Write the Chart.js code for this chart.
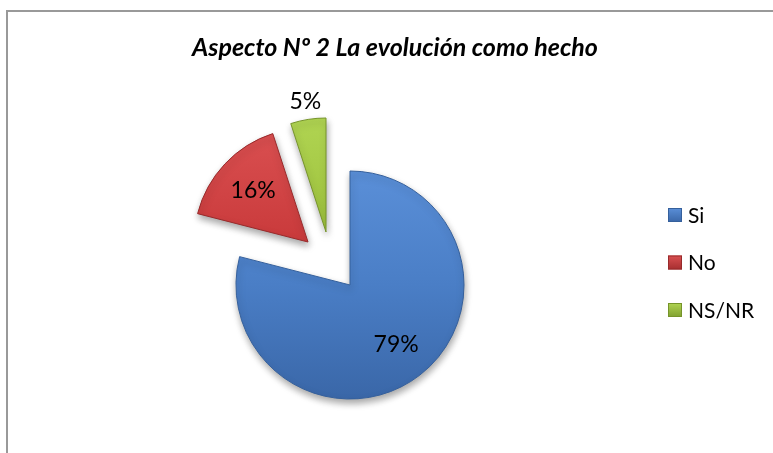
<!DOCTYPE html>
<html>
<head>
<meta charset="utf-8">
<script src="https://cdn.jsdelivr.net/npm/chart.js@4.4.0/dist/chart.umd.min.js"></script>
<style>
  body { margin: 0; background: #fff; }
  #wrap { position: relative; width: 773px; height: 453px; overflow: hidden; }
  #frame { position: absolute; left: 6px; top: 10px; width: 800px; height: 500px;
           border-top: 2px solid #999; border-left: 2px solid #999; }
  #pieChart { position: absolute; left: 0; top: 0; }
</style>
</head>
<body>
<div id="wrap">
  <div id="frame"></div>
  <canvas id="pieChart" width="773" height="453"></canvas>
</div>
<script>
const titleText = 'Aspecto Nº 2 La evolución como hecho';
const categories = ['Si', 'No', 'NS/NR'];
const percents = [79, 16, 5];

// look of the slices (bevel-ish gradient) and how far each one is pulled out
const baseColors = ['#4a7ec6', '#c93a3b', '#9dc13c'];
const lightColors = ['#5a8fd8', '#da5051', '#b0d452'];
const darkColors = ['#3a67a8', '#a62e30', '#80a030'];
const edgeColors = ['#35609c', '#982a2b', '#76942a'];
const explodeX = [0, -42, -24];
const explodeY = [0, -43, -53];
const R = 114;

function sliceFill(context) {
    const i = context.dataIndex;
    const area = context.chart.chartArea;
    if (!area || i === undefined) return baseColors[i || 0];
    const cy = (area.top + area.bottom) / 2 + explodeY[i];
    const g = context.chart.ctx.createLinearGradient(0, cy - R, 0, cy + R);
    g.addColorStop(0, lightColors[i]);
    g.addColorStop(0.5, baseColors[i]);
    g.addColorStop(1, darkColors[i]);
    return g;
}

const explodePlugin = {
    id: 'explode',
    afterDatasetUpdate(chart, args) {
        args.meta.data.forEach((arc, i) => {
            arc.x += explodeX[i];
            arc.y += explodeY[i];
        });
    }
};

const paintPlugin = {
    id: 'paint',
    beforeDatasetsDraw(chart) {
        const c = chart.ctx;
        c.save();
        c.shadowColor = 'rgba(0,0,0,0.35)';
        c.shadowBlur = 7;
        c.shadowOffsetX = 1;
        c.shadowOffsetY = 4;
    },
    afterDatasetsDraw(chart) {
        const c = chart.ctx;
        c.restore();
        const meta = chart.getDatasetMeta(0);
        c.save();
        c.fillStyle = '#000';
        c.font = '23px Lato';
        c.textAlign = 'center';
        c.textBaseline = 'middle';
        meta.data.forEach((arc, i) => {
            const mid = (arc.startAngle + arc.endAngle) / 2;
            const small = arc.circumference < 0.5;
            const d = small ? arc.outerRadius + 18 : arc.outerRadius * 0.66;
            c.fillText(percents[i] + '%', arc.x + Math.cos(mid) * d, arc.y + Math.sin(mid) * d);
        });
        c.restore();
    },
    afterDraw(chart) {
        const c = chart.ctx;
        c.save();
        // title
        c.fillStyle = '#000';
        c.font = 'italic bold 25px Lato';
        c.textAlign = 'center';
        c.textBaseline = 'alphabetic';
        c.fillText(titleText, 395, 56);
        // legend
        c.font = '21px Lato';
        c.textAlign = 'left';
        c.textBaseline = 'middle';
        categories.forEach((label, i) => {
            const y = 215 + i * 47.5;
            const g = c.createLinearGradient(0, y - 7, 0, y + 7);
            g.addColorStop(0, lightColors[i]);
            g.addColorStop(1, darkColors[i]);
            c.fillStyle = g;
            c.fillRect(668, y - 7, 14, 14);
            c.strokeStyle = edgeColors[i];
            c.lineWidth = 1;
            c.strokeRect(668.5, y - 6.5, 13, 13);
            c.fillStyle = '#000';
            c.fillText(label, 688, y + 1);
        });
        c.restore();
    }
};

const ctx = document.getElementById('pieChart').getContext('2d');
const pieChart = new Chart(ctx, {
    type: 'pie',
    data: {
        labels: categories,
        datasets: [{
            data: percents,
            backgroundColor: sliceFill,
            borderColor: edgeColors,
            borderWidth: 1,
            radius: R,
            clip: false
        }]
    },
    options: {
        responsive: false,
        animation: false,
        events: [],
        layout: {
            padding: { left: 0, right: 73, top: 117, bottom: 0 }
        },
        plugins: {
            legend: { display: false },
            title: { display: false },
            tooltip: { enabled: false }
        }
    },
    plugins: [explodePlugin, paintPlugin]
});
</script>
</body>
</html>
